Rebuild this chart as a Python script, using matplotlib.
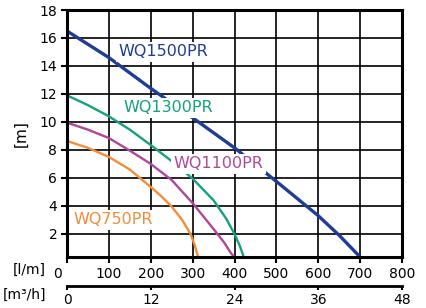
import matplotlib
matplotlib.use("Agg")
import matplotlib.pyplot as plt
import matplotlib.transforms as mtransforms

# Data (flow in l/min, head in m)
q_1500 = [0, 100, 200, 300, 400, 500, 600, 650, 700]
h_1500 = [16.5, 14.6, 12.4, 10.3, 8.15, 5.75, 3.3, 1.9, 0.35]

q_1300 = [0, 50, 100, 150, 200, 250, 300, 350, 380, 400, 412, 422]
h_1300 = [11.9, 11.2, 10.4, 9.45, 8.35, 7.2, 5.95, 4.4, 3.1, 2.0, 1.2, 0.35]

q_1100 = [0, 50, 100, 150, 200, 250, 300, 350, 375, 392, 400]
h_1100 = [9.95, 9.45, 8.85, 7.95, 7.0, 5.85, 4.2, 2.35, 1.4, 0.6, 0.35]

q_750 = [0, 50, 100, 150, 200, 225, 250, 275, 295, 305, 313]
h_750 = [8.64, 8.15, 7.5, 6.6, 5.35, 4.7, 3.95, 3.0, 2.0, 1.2, 0.35]

lpm_ticks = [0, 100, 200, 300, 400, 500, 600, 700, 800]
m3h_ticks = [0, 12, 24, 36, 48]
y_ticks = [2, 4, 6, 8, 10, 12, 14, 16, 18]

c_1500 = "#1f3c96"
c_1300 = "#16a07e"
c_1100 = "#b0469b"
c_750 = "#f58c3a"

plt.rcParams['font.family'] = ['DejaVu Sans']

fig = plt.figure(figsize=(4.26, 3.08), dpi=100)
ax = fig.add_axes([67/426, 1 - 257/308, (402-67)/426, (257-10)/308])

ax.set_xlim(0, 800)
ax.set_ylim(0.35, 18)
ax.set_xticks(lpm_ticks)
ax.set_yticks(y_ticks)
ax.grid(True, color="black", linewidth=1.2, zorder=1)
for s in ax.spines.values():
    s.set_linewidth(2.2)
    s.set_zorder(5)
ax.tick_params(axis="both", direction="out", length=4, width=1.5,
               labelsize=10, pad=3, colors="black")

ax.plot(q_1500, h_1500, color=c_1500, lw=2.4, zorder=3, solid_joinstyle="round")
ax.plot(q_1300, h_1300, color=c_1300, lw=1.7, zorder=3, solid_joinstyle="round")
ax.plot(q_1100, h_1100, color=c_1100, lw=1.7, zorder=3, solid_joinstyle="round")
ax.plot(q_750, h_750, color=c_750, lw=1.7, zorder=3, solid_joinstyle="round")

bbox = dict(facecolor="white", edgecolor="none", pad=2)
ax.text(124, 15.0, "WQ1500PR", color=c_1500, fontsize=11.5, va="center", ha="left", bbox=bbox, zorder=4)
ax.text(134, 11.0, "WQ1300PR", color=c_1300, fontsize=11.5, va="center", ha="left", bbox=bbox, zorder=4)
ax.text(255, 7.0, "WQ1100PR", color=c_1100, fontsize=11.5, va="center", ha="left", bbox=bbox, zorder=4)
ax.text(16, 3.0, "WQ750PR", color=c_750, fontsize=11.5, va="center", ha="left", bbox=bbox, zorder=4)

ax.set_ylabel("[m]", fontsize=11, labelpad=8)

# shift the "0" label of l/min axis to the left
fig.canvas.draw()
lbl0 = ax.get_xticklabels()[0]
lbl0.set_transform(lbl0.get_transform() + mtransforms.ScaledTranslation(-10/100, 0, fig.dpi_scale_trans))

# secondary axis in m3/h (separate axes, same horizontal extent)
ax2 = fig.add_axes(ax.get_position(), facecolor="none")
ax2.set_xlim(0, 48)
ax2.set_ylim(0, 1)
ax2.set_xticks(m3h_ticks)
ax2.set_yticks([])
ax2.spines["bottom"].set_position(("outward", 29 * 72 / 100))
for k in ["top", "left", "right"]:
    ax2.spines[k].set_visible(False)
ax2.spines["bottom"].set_linewidth(2.0)
ax2.tick_params(axis="x", direction="out", length=3, width=1.5, labelsize=10, pad=2)

fig.text(29/426, 1 - 270/308, "[l/m]", fontsize=10, ha="center", va="center")
fig.text(24/426, 1 - 295/308, "[m³/h]", fontsize=10, ha="center", va="center")

fig.savefig("out.png", dpi=100)
